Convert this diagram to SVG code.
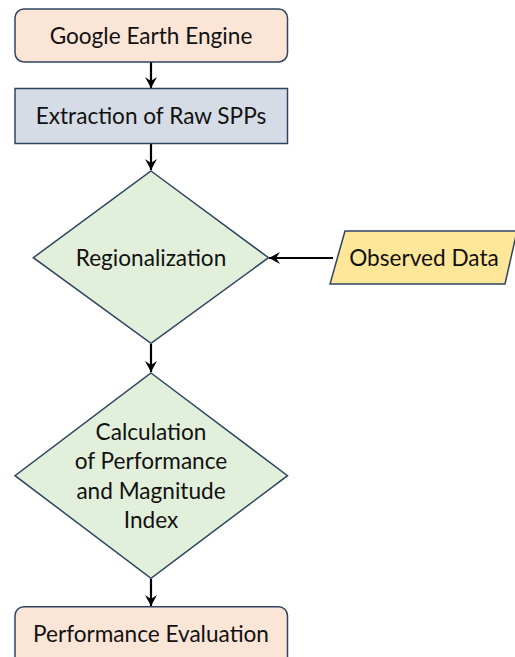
<svg xmlns="http://www.w3.org/2000/svg" width="515" height="657" viewBox="0 0 515 657">
<defs>
<marker id="arr" markerUnits="userSpaceOnUse" markerWidth="16" markerHeight="16" refX="12" refY="8" orient="auto">
<path d="M1,2 L12,8 L1,14 L5,8 Z" fill="#000"/>
</marker>
<style>
.n{stroke:#2F4462;stroke-width:1.5}
.t{font-family:Lato,"Liberation Sans",sans-serif;font-size:22.6px;fill:#111;text-anchor:middle}
.c{stroke:#000;stroke-width:2.2;fill:none;marker-end:url(#arr)}
</style>
</defs>
<rect width="515" height="657" fill="#fff"/>
<g id="connectors">
<line class="c" x1="151" y1="62" x2="151" y2="88"/>
<line class="c" x1="151" y1="144" x2="151" y2="170"/>
<line class="c" x1="151" y1="344" x2="151" y2="372"/>
<line class="c" x1="151" y1="579" x2="151" y2="606"/>
<line class="c" x1="333" y1="258" x2="269" y2="258"/>
</g>
<g id="gee">
<rect class="n" x="15" y="9" width="272.5" height="53" rx="9" fill="#FBE5D6"/>
<text class="t" x="151" y="44">Google Earth Engine</text>
</g>
<g id="extract">
<rect class="n" x="15" y="88.5" width="272.5" height="55" fill="#D6DCE5"/>
<text class="t" x="151" y="124">Extraction of Raw SPPs</text>
</g>
<g id="region">
<polygon class="n" points="151,171 268.5,257.7 151,343.3 33.3,257.7" fill="#E2EFDA"/>
<text class="t" x="151" y="266">Regionalization</text>
</g>
<g id="observed">
<polygon class="n" points="345,231 517,231 505,284 330,284" fill="#FFE699"/>
<text class="t" x="424" y="266">Observed Data</text>
</g>
<g id="calc">
<polygon class="n" points="151,373 287.5,475.7 151,578.3 15,475.7" fill="#E2EFDA"/>
<text class="t" x="151" y="440">Calculation</text>
<text class="t" x="151" y="469">of Performance</text>
<text class="t" x="151" y="499">and Magnitude</text>
<text class="t" x="151" y="528">Index</text>
</g>
<g id="perf">
<rect class="n" x="15" y="606.7" width="272.5" height="60" rx="9" fill="#FBE5D6"/>
<text class="t" x="151" y="642">Performance Evaluation</text>
</g>
</svg>
